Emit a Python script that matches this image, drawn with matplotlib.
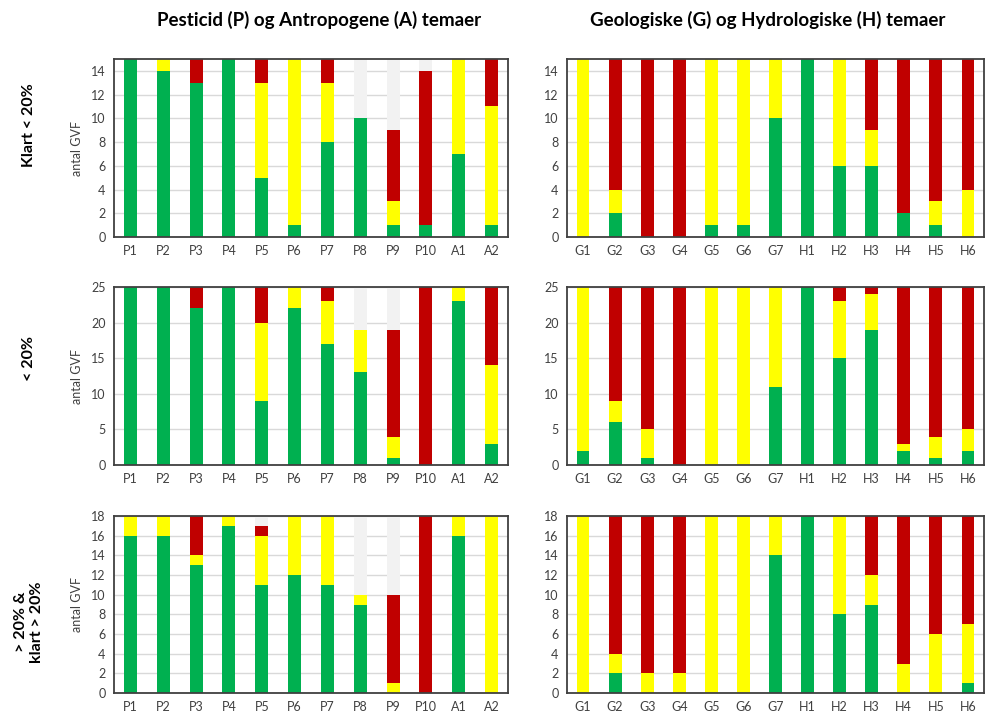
import matplotlib.pyplot as plt
import numpy as np

plt.rcParams['font.family'] = ['Lato', 'DejaVu Sans']

GREEN = '#00b050'
YELLOW = '#ffff00'
RED = '#c00000'
GREY = '#f2f2f2'

pa_labels = ['P1', 'P2', 'P3', 'P4', 'P5', 'P6', 'P7', 'P8', 'P9', 'P10', 'A1', 'A2']
gh_labels = ['G1', 'G2', 'G3', 'G4', 'G5', 'G6', 'G7', 'H1', 'H2', 'H3', 'H4', 'H5', 'H6']

row_titles = ['Klart < 20%', '< 20%', '> 20% &\nklart > 20%']
row_totals = [15, 25, 18]
row_ticks = [2, 5, 2]

# Klart < 20%
pa_r1_green = [15, 14, 13, 15, 5, 1, 8, 10, 1, 1, 7, 1]
pa_r1_yellow = [0, 1, 0, 0, 8, 14, 5, 0, 2, 0, 8, 10]
pa_r1_red = [0, 0, 2, 0, 2, 0, 2, 0, 6, 13, 0, 4]
gh_r1_green = [0, 2, 0, 0, 1, 1, 10, 15, 6, 6, 2, 1, 0]
gh_r1_yellow = [15, 2, 0, 0, 14, 14, 5, 0, 9, 3, 0, 2, 4]
gh_r1_red = [0, 11, 15, 15, 0, 0, 0, 0, 0, 6, 13, 12, 11]

# < 20%
pa_r2_green = [25, 25, 22, 25, 9, 22, 17, 13, 1, 0, 23, 3]
pa_r2_yellow = [0, 0, 0, 0, 11, 3, 6, 6, 3, 0, 2, 11]
pa_r2_red = [0, 0, 3, 0, 5, 0, 2, 0, 15, 25, 0, 11]
gh_r2_green = [2, 6, 1, 0, 0, 0, 11, 25, 15, 19, 2, 1, 2]
gh_r2_yellow = [23, 3, 4, 0, 25, 25, 14, 0, 8, 5, 1, 3, 3]
gh_r2_red = [0, 16, 20, 25, 0, 0, 0, 0, 2, 1, 22, 21, 20]

# > 20% & klart > 20%
pa_r3_green = [16, 16, 13, 17, 11, 12, 11, 9, 0, 0, 16, 0]
pa_r3_yellow = [2, 2, 1, 1, 5, 6, 7, 1, 1, 0, 2, 18]
pa_r3_red = [0, 0, 4, 0, 1, 0, 0, 0, 9, 18, 0, 0]
gh_r3_green = [0, 2, 0, 0, 0, 0, 14, 18, 8, 9, 0, 0, 1]
gh_r3_yellow = [18, 2, 2, 2, 18, 18, 4, 0, 10, 3, 3, 6, 6]
gh_r3_red = [0, 14, 16, 16, 0, 0, 0, 0, 0, 6, 15, 12, 11]

pa_rows = [(pa_r1_green, pa_r1_yellow, pa_r1_red),
           (pa_r2_green, pa_r2_yellow, pa_r2_red),
           (pa_r3_green, pa_r3_yellow, pa_r3_red)]
gh_rows = [(gh_r1_green, gh_r1_yellow, gh_r1_red),
           (gh_r2_green, gh_r2_yellow, gh_r2_red),
           (gh_r3_green, gh_r3_yellow, gh_r3_red)]


def stacked_panel(ax, labels, green, yellow, red, total, step, ylabel=None):
    x = np.arange(len(labels))
    g = np.array(green)
    y = np.array(yellow)
    r = np.array(red)
    rest = total - g - y - r
    w = 0.4
    ax.bar(x, g, w, color=GREEN, zorder=2)
    ax.bar(x, y, w, bottom=g, color=YELLOW, zorder=2)
    ax.bar(x, r, w, bottom=g + y, color=RED, zorder=2)
    ax.bar(x, rest, w, bottom=g + y + r, color=GREY, zorder=2)
    ax.set_xlim(-0.5, len(labels) - 0.5)
    ax.set_ylim(0, total)
    ax.set_yticks(np.arange(0, total + 1, step))
    ax.set_xticks(x)
    ax.set_xticklabels(labels)
    ax.yaxis.grid(True, color='#d9d9d9', lw=1, zorder=0)
    ax.set_axisbelow(True)
    ax.tick_params(length=0, labelsize=9, colors='#404040', pad=6)
    for s in ax.spines.values():
        s.set_color('#404040')
        s.set_linewidth(1.3)
    if ylabel:
        ax.set_ylabel(ylabel, fontsize=9, color='#404040', labelpad=6)


fig = plt.figure(figsize=(9.85, 7.17), dpi=100)
W, H = 985.0, 717.0
row_px = [(59, 237), (287, 465), (516, 693)]
label_y = [125, 358, 622]

for i, (top, bot) in enumerate(row_px):
    ax_l = fig.add_axes([114 / W, 1 - bot / H, 394 / W, (bot - top) / H])
    stacked_panel(ax_l, pa_labels, *pa_rows[i], row_totals[i], row_ticks[i],
                  ylabel='antal GVF')
    ax_r = fig.add_axes([567 / W, 1 - bot / H, 417 / W, (bot - top) / H])
    stacked_panel(ax_r, gh_labels, *gh_rows[i], row_totals[i], row_ticks[i])
    fig.text(29 / W, 1 - label_y[i] / H, row_titles[i], rotation=90,
             ha='center', va='center', fontsize=11.5, fontweight='bold',
             linespacing=1.1)

fig.text(319 / W, 1 - 20 / H, 'Pesticid (P) og Antropogene (A) temaer',
         ha='center', va='center', fontsize=13.5, fontweight='bold')
fig.text(768 / W, 1 - 20 / H, 'Geologiske (G) og Hydrologiske (H) temaer',
         ha='center', va='center', fontsize=13.5, fontweight='bold')

fig.savefig('out.png', dpi=100)
